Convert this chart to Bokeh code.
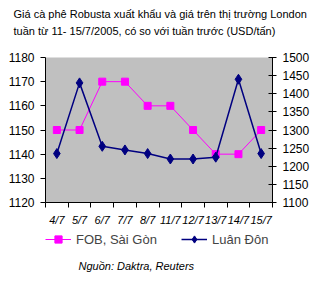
from bokeh.plotting import figure
from bokeh.layouts import column
from bokeh.models import (Range1d, LinearAxis, FixedTicker, Legend, LegendItem, Title, Label)
from bokeh.embed import file_html
from bokeh.resources import INLINE

categories = ["4/7", "5/7", "6/7", "7/7", "8/7", "11/7", "12/7", "13/7", "14/7", "15/7"]
fob_saigon = [1150, 1150, 1170, 1170, 1160, 1160, 1150, 1140, 1140, 1150]
luan_don = [1235, 1430, 1255, 1245, 1235, 1220, 1220, 1225, 1440, 1235]
left_ticks = [1120, 1130, 1140, 1150, 1160, 1170, 1180]
right_ticks = [1100, 1150, 1200, 1250, 1300, 1350, 1400, 1450, 1500]
title_lines = ["Giá cà phê Robusta xuất khẩu và giá trên thị trường London",
               "tuần từ 11- 15/7/2005, có so với tuần trước (USD/tấn)"]
source_text = "Nguồn: Daktra, Reuters"
series_names = ["FOB, Sài Gòn", "Luân Đôn"]

xs = [i + 0.5 for i in range(len(categories))]
FONT = "Liberation Sans"
PINK, NAVY = "#FF00FF", "#000080"

p = figure(width=331, height=226, frame_width=227, frame_height=145,
           output_backend="svg", toolbar_location=None,
           x_range=Range1d(0, len(categories)), y_range=Range1d(1120, 1180),
           min_border_left=45, min_border_right=59, min_border_top=57, min_border_bottom=24,
           background_fill_color="#C0C0C0", border_fill_color="white", outline_line_color=None)
p.xgrid.visible = False
p.ygrid.visible = False
p.extra_y_ranges = {"right": Range1d(1100, 1500)}

p.xaxis.ticker = FixedTicker(ticks=xs, minor_ticks=list(range(len(categories) + 1)))
p.xaxis.major_label_overrides = {x: c for x, c in zip(xs, categories)}
p.xaxis.major_tick_out = 0
p.xaxis.major_tick_in = 0
p.xaxis.minor_tick_out = 5
p.xaxis.minor_tick_in = 0
p.xaxis.minor_tick_line_color = "black"
p.xaxis.major_label_standoff = 6
p.xaxis.major_label_text_font = FONT
p.xaxis.major_label_text_font_style = "italic"
p.xaxis.major_label_text_font_size = "11px"
p.xaxis.major_label_text_color = "black"
p.xaxis.axis_line_color = "black"

p.yaxis.ticker = FixedTicker(ticks=left_ticks)
p.yaxis.minor_tick_line_color = None
p.yaxis.major_tick_out = 5
p.yaxis.major_tick_in = 0
p.yaxis.major_label_standoff = 6
p.yaxis.major_label_text_font = FONT
p.yaxis.major_label_text_font_size = "12px"
p.yaxis.major_label_text_color = "black"
p.yaxis.axis_line_color = "black"

ra = LinearAxis(y_range_name="right", ticker=FixedTicker(ticks=right_ticks))
ra.minor_tick_line_color = None
ra.major_tick_out = 4
ra.major_tick_in = 4
ra.major_label_standoff = 6
ra.major_label_text_font = FONT
ra.major_label_text_font_size = "12px"
ra.major_label_text_color = "black"
ra.axis_line_color = "black"
p.add_layout(ra, "right")

p.line(xs, fob_saigon, line_color=PINK, line_width=1)
p.scatter(xs, fob_saigon, marker="square", size=7, fill_color=PINK, line_color=PINK)
p.line(xs, luan_don, line_color=NAVY, line_width=1.5, y_range_name="right")
p.scatter(xs, luan_don, marker="diamond", size=10, fill_color=NAVY, line_color=NAVY,
          y_range_name="right")

p.title.visible = False
p.add_layout(Title(text=" ", text_font=FONT, text_font_size="11px", standoff=4), "above")
p.add_layout(Title(text=title_lines[1], text_font=FONT, text_font_size="11px",
                   text_font_style="normal", align="left", offset=-32, standoff=6,
                   text_color="black"), "above")
p.add_layout(Title(text=title_lines[0], text_font=FONT, text_font_size="11px",
                   text_font_style="normal", align="left", offset=-32, standoff=0,
                   text_color="black"), "above")

# bottom strip (its frame is aligned with the chart frame by the column layout):
# legend keys and source note; the series are drawn out of view, only as legend keys
p2 = figure(width=331, height=66, output_backend="svg", toolbar_location=None, title=None,
            x_range=Range1d(100, 101), y_range=Range1d(0, 1),
            x_axis_location=None, y_axis_location=None,
            min_border_left=45, min_border_right=59, min_border_top=0, min_border_bottom=0,
            background_fill_color="white", border_fill_color="white", outline_line_color=None)
p2.xgrid.visible = False
p2.ygrid.visible = False
k1 = p2.line(xs, fob_saigon, line_color=PINK, line_width=1)
k1s = p2.scatter(xs, fob_saigon, marker="square", size=7, fill_color=PINK, line_color=PINK)
k2 = p2.line(xs, luan_don, line_color=NAVY, line_width=1.5)
k2s = p2.scatter(xs, luan_don, marker="diamond", size=9, fill_color=NAVY, line_color=NAVY)

for (name, rends), lx in zip([(series_names[0], [k1, k1s]), (series_names[1], [k2, k2s])],
                             [0, 136]):
    lg = Legend(items=[LegendItem(label=name, renderers=rends)],
                orientation="horizontal", location=(lx, 46), margin=0, padding=2,
                spacing=0, glyph_width=26, glyph_height=18, label_standoff=5,
                label_text_font=FONT, label_text_font_size="13px",
                background_fill_alpha=0, border_line_color=None)
    p2.add_layout(lg)

p2.add_layout(Label(x=33, y=29, x_units="screen", y_units="screen", text=source_text,
                    text_font=FONT, text_font_size="11px", text_font_style="italic",
                    text_baseline="middle", text_color="black"))

layout = column(p, p2, spacing=0)
open("out.html", "w").write(file_html(layout, INLINE))
